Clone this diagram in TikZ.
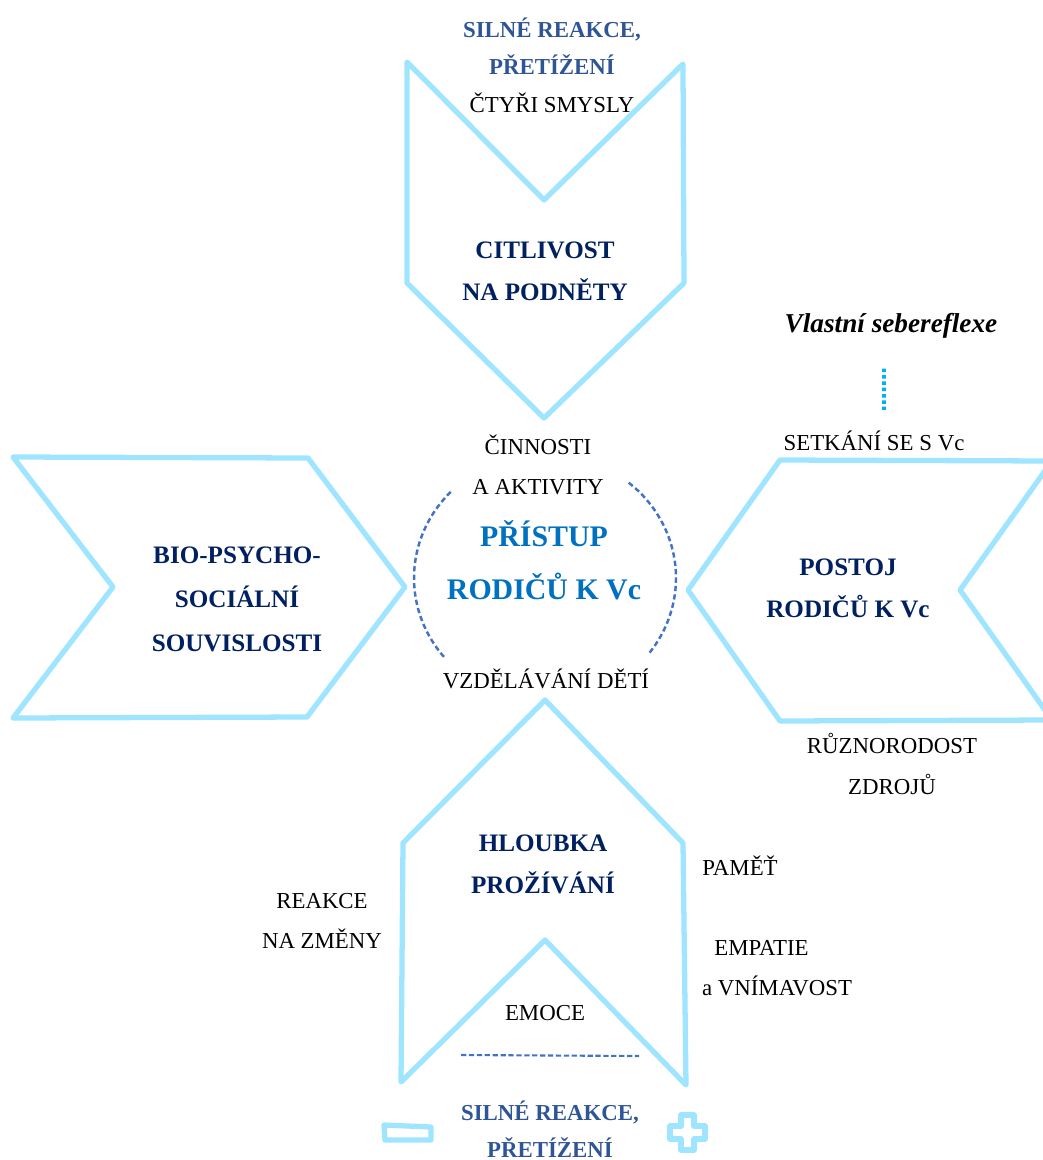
\documentclass[tikz,border=0pt]{standalone}
\usepackage{fontspec}
\setmainfont{Liberation Serif}
\definecolor{navy}{RGB}{0,32,96}
\definecolor{midblue}{RGB}{47,85,151}
\definecolor{accent}{RGB}{0,112,192}
\definecolor{chev}{RGB}{160,229,255}
\definecolor{dashblue}{RGB}{68,114,196}
\definecolor{dotblue}{RGB}{0,176,240}

\begin{document}
\begin{tikzpicture}[x=0.02cm,y=-0.02cm]
  \tikzstyle{every node}=[align=center, inner sep=0pt]
  \tikzstyle{lbl}=[font={\fontsize{13}{23}\selectfont}]
  \tikzstyle{head}=[font={\fontsize{14.3}{24}\selectfont\bfseries}, text=navy]
  \tikzstyle{sub}=[font={\fontsize{13}{21}\selectfont\bfseries}, text=midblue]
  \tikzstyle{core}=[font={\fontsize{17}{30}\selectfont\bfseries}, text=accent]
  \tikzstyle{arrowshape}=[draw=chev, line width=3pt, line join=round]
  \tikzstyle{dashring}=[draw=dashblue, line width=1.4pt, dash pattern=on 3pt off 1.8pt]
  \useasboundingbox (0,0) rectangle (1042,1160);

  % shapes
  \draw[arrowshape] (407,62) -- (544,200) -- (683,64) -- (684,283) -- (544,418) -- (407,283) -- cycle;
  \draw[arrowshape] (13,457) -- (308,458) -- (405,587) -- (307,717) -- (13,718) -- (113,587) -- cycle;
  \draw[arrowshape] (780,460) -- (1052,461) -- (960,590) -- (1052,720) -- (780,721) -- (688,590) -- cycle;
  \draw[arrowshape] (545,700) -- (683,843) -- (686,1085) -- (545,940) -- (401,1082) -- (403,843) -- cycle;
  \draw[arrowshape] (384,1125) -- (431,1127) -- (431,1140) -- (385,1140) -- cycle;
  \draw[arrowshape] (681,1115) -- (694,1115) -- (694,1126) -- (705,1126) -- (705,1139) -- (694,1139)
    -- (694,1150) -- (681,1150) -- (681,1139) -- (670,1139) -- (670,1126) -- (681,1126) -- cycle;

  % ring round the centre
  \draw[dashring] plot[domain=136:220, samples=40] ({545+131*cos(\x)}, {578-124*sin(\x)});
  \draw[dashring] plot[domain=-37:51, samples=40] ({545+131*cos(\x)}, {578-124*sin(\x)});
  \draw[draw=dashblue, line width=1.2pt, dash pattern=on 3pt off 1.5pt] (461,1055) -- (639,1056);

  \node[sub] (silne1) at (552,46) {SILNÉ REAKCE,\\PŘETÍŽENÍ};
  \node[lbl] (smysly) at (552,103) {ČTYŘI SMYSLY};
  \node[head] (citlivost) at (545,271) {CITLIVOST\\NA PODNĚTY};
  \node[font={\fontsize{15.5}{18}\selectfont\bfseries\itshape}] (self) at (891,326) {Vlastní sebereflexe};
  \node[lbl] (meet) at (874,441) {SETKÁNÍ SE S Vc};
  \node[lbl] (cinnosti) at (538,465) {ČINNOSTI\\A AKTIVITY};
  \node[core] (pristup) at (544,560) {PŘÍSTUP\\RODIČŮ K Vc};
  \node[head, font={\fontsize{14.3}{25}\selectfont\bfseries}] (bio) at (237,599) {BIO-PSYCHO-\\SOCIÁLNÍ\\SOUVISLOSTI};
  \node[head] (postoj) at (848,588) {POSTOJ\\RODIČŮ K Vc};
  \node[lbl] (vzdelavani) at (546,679) {VZDĚLÁVÁNÍ DĚTÍ};
  \node[lbl] (zdroje) at (892,764) {RŮZNORODOST\\ZDROJŮ};
  \node[head] (hloubka) at (543,864) {HLOUBKA\\PROŽÍVÁNÍ};
  \node[lbl] (pamet) at (740,866) {PAMĚŤ};
  \node[lbl] (reakce) at (322,921) {REAKCE\\NA ZMĚNY};
  \node[lbl, align=left] (empatie) at (777,968) {\hspace{7pt}EMPATIE\\a VNÍMAVOST};
  \node[lbl] (emoce) at (545,1013) {EMOCE};
  \node[sub] (silne2) at (550,1129) {SILNÉ REAKCE,\\PŘETÍŽENÍ};

  \draw[draw=dotblue, line width=2.2pt, dash pattern=on 2pt off 1.6pt]
    ([xshift=-4pt,yshift=-17pt]self.south) -- ([xshift=5.7pt,yshift=10.5pt]meet.north);
\end{tikzpicture}
\end{document}
